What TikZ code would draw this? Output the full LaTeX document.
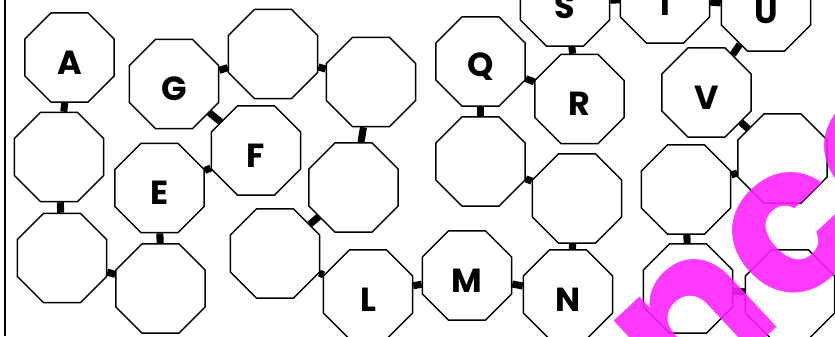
\documentclass[tikz,border=0pt]{standalone}
\usepackage{fontspec}
\setmainfont{Poppins}
\usetikzlibrary{shapes.geometric}
\definecolor{wmpink}{RGB}{255,30,255}
\tikzset{
  oct/.style={regular polygon,regular polygon sides=8,draw=black,line width=.8pt,fill=white,minimum size=1.93cm,inner sep=0pt},
  lett/.style={font=\fontsize{19}{22}\selectfont\bfseries,yshift=-1mm},
  link/.style={line width=4pt,black},
  wmark/.style={text=wmpink,text opacity=.88,inner sep=0pt,font=\fontsize{118}{130}\selectfont\bfseries}
}
\begin{document}
\begin{tikzpicture}[x=0.02cm,y=-0.02cm]
  \useasboundingbox (0,0) rectangle (835,336);
  \clip (0,0) rectangle (835,336);
  \draw[line width=.8pt] (5,0) -- (5,336);
  % lettered cells
  \node[oct,label={[lett]center:A}] (A) at (69.5,57.5) {};
  \node[oct,label={[lett]center:G}] (G) at (174,84) {};
  \node[oct,label={[lett]center:F}] (F) at (256,150.5) {};
  \node[oct,label={[lett]center:E}] (E) at (159.5,188) {};
  \node[oct,label={[lett]center:L}] (L) at (368,294.5) {};
  \node[oct,label={[lett]center:M}] (M) at (467,275.5) {};
  \node[oct,label={[lett]center:N}] (N) at (568,294.5) {};
  \node[oct,label={[lett]center:Q}] (Q) at (480.5,61.5) {};
  \node[oct,label={[lett]center:R}] (R) at (579.5,99) {};
  \node[oct,label={[lett]center:S}] (S) at (565,1.5) {};
  \node[oct,label={[lett]center:T}] (T) at (665,-1.5) {};
  \node[oct,label={[lett]center:U}] (U) at (766,6.5) {};
  \node[oct,label={[lett]center:V}] (V) at (706.5,92.5) {};
  % empty cells
  \node[oct] (o1) at (273,54) {};
  \node[oct] (o2) at (371,82) {};
  \node[oct] (o3) at (59,157) {};
  \node[oct] (o4) at (353.5,187.5) {};
  \node[oct] (o5) at (62,258) {};
  \node[oct] (o6) at (160.5,288.5) {};
  \node[oct] (o7) at (275,253.5) {};
  \node[oct] (o8) at (480.5,161.5) {};
  \node[oct] (o9) at (577,198.5) {};
  \node[oct] (o10) at (686,189.5) {};
  \node[oct] (o11) at (782.5,158.5) {};
  \node[oct] (o12) at (688,288.5) {};
  \node[oct] (o13) at (790,294.5) {};
  % links
  \draw[link] (A) -- (o3);
  \draw[link] (o3) -- (o5);
  \draw[link] (o5) -- (o6);
  \draw[link] (E) -- (o6);
  \draw[link] (F) -- (E);
  \draw[link] (G) -- (F);
  \draw[link] (G) -- (o1);
  \draw[link] (o1) -- (o2);
  \draw[link] (o2) -- (o4);
  \draw[link] (o7) -- (o4);
  \draw[link] (o7) -- (L);
  \draw[link] (L) -- (M);
  \draw[link] (M) -- (N);
  \draw[link] (o9) -- (N);
  \draw[link] (o8) -- (o9);
  \draw[link] (Q) -- (o8);
  \draw[link] (Q) -- (R);
  \draw[link] (S) -- (R);
  \draw[link] (S) -- (T);
  \draw[link] (T) -- (U);
  \draw[link] (U) -- (V);
  \draw[link] (V) -- (o11);
  \draw[link] (o10) -- (o11);
  \draw[link] (o10) -- (o12);
  \draw[link] (o12) -- (o13);
  % watermark
  \node[wmark,rotate=43] (wm) at (788,238) {nce};
\end{tikzpicture}
\end{document}
